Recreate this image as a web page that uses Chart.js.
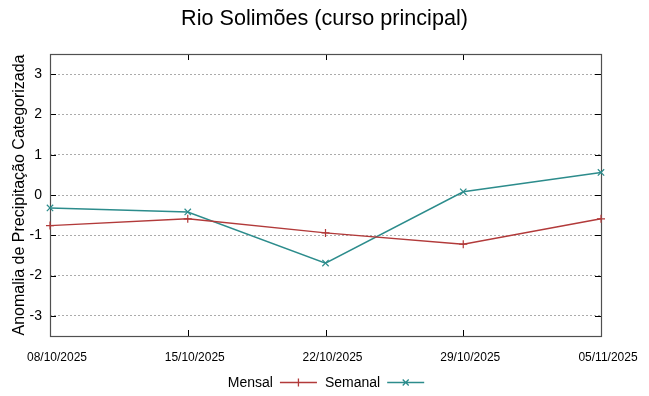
<!DOCTYPE html>
<html>
<head>
<meta charset="utf-8">
<script src="https://cdn.jsdelivr.net/npm/chart.js@4/dist/chart.umd.min.js"></script>
<style>
  html, body { margin: 0; padding: 0; background: #fff; }
  #wrap { width: 649px; height: 396px; position: relative; }
</style>
</head>
<body>
<div id="wrap"><canvas id="c"></canvas></div>
<script>
const chartTitle = 'Rio Solimões (curso principal)';
const yAxisTitle = 'Anomalia de Precipitação Categorizada';
const categories = ['08/10/2025', '15/10/2025', '22/10/2025', '29/10/2025', '05/11/2025'];
const mensal = [-0.76, -0.59, -0.94, -1.22, -0.59];
const semanal = [-0.32, -0.42, -1.69, 0.08, 0.56];
const yTicks = [-3, -2, -1, 0, 1, 2, 3];
const seriesNames = ['Mensal', 'Semanal'];

const FONT = "'Liberation Sans', Arial, sans-serif";
const RED = '#b23a3a';
const TEAL = '#2c8c8c';

const framePlugin = {
  id: 'frame',
  beforeDatasetsDraw(chart) {
    const { ctx, chartArea: a, scales } = chart;
    ctx.save();
    ctx.strokeStyle = '#000';
    ctx.lineWidth = 1;
    ctx.beginPath();
    scales.y.ticks.forEach(t => {
      const y = Math.round(scales.y.getPixelForValue(t.value)) + 0.5;
      ctx.moveTo(a.left, y); ctx.lineTo(a.left + 6, y);
      ctx.moveTo(a.right, y); ctx.lineTo(a.right - 6, y);
    });
    categories.forEach((c, i) => {
      const x = Math.round(scales.x.getPixelForValue(i)) + 0.5;
      ctx.moveTo(x, a.top); ctx.lineTo(x, a.top + 6);
      ctx.moveTo(x, a.bottom); ctx.lineTo(x, a.bottom - 6);
    });
    ctx.stroke();
    ctx.strokeStyle = '#505050';
    ctx.lineWidth = 1.2;
    ctx.strokeRect(Math.round(a.left) + 0.5, Math.round(a.top) + 0.5,
                   Math.round(a.right - a.left), Math.round(a.bottom - a.top));
    ctx.restore();
  }
};

const legendPlugin = {
  id: 'keyLegend',
  afterDraw(chart) {
    const { ctx } = chart;
    ctx.save();
    ctx.font = '14px ' + FONT;
    ctx.textBaseline = 'alphabetic';
    const gapText = 7, sampleW = 37, gapItem = 8;
    const items = chart.data.datasets.map(ds => ({
      label: ds.label, color: ds.borderColor, style: ds.pointStyle,
      w: ctx.measureText(ds.label).width
    }));
    let total = 0;
    items.forEach((it, i) => { total += it.w + gapText + sampleW + (i < items.length - 1 ? gapItem : 0); });
    let x = chart.width / 2 + 1.5 - total / 2;
    const yBase = 387, yMid = 382.5;
    items.forEach(it => {
      ctx.fillStyle = '#000';
      ctx.textAlign = 'left';
      ctx.fillText(it.label, x, yBase);
      x += it.w + gapText;
      ctx.strokeStyle = it.color;
      ctx.lineWidth = 1.3;
      ctx.beginPath();
      ctx.moveTo(x, yMid); ctx.lineTo(x + sampleW, yMid);
      const cx = x + sampleW / 2, r = 4;
      if (it.style === 'cross') {
        ctx.moveTo(cx, yMid - r); ctx.lineTo(cx, yMid + r);
      } else {
        const d = r * 0.75;
        ctx.moveTo(cx - d, yMid - d); ctx.lineTo(cx + d, yMid + d);
        ctx.moveTo(cx - d, yMid + d); ctx.lineTo(cx + d, yMid - d);
      }
      ctx.stroke();
      x += sampleW + gapItem;
    });
    ctx.restore();
  }
};

new Chart(document.getElementById('c'), {
  type: 'line',
  data: {
    labels: categories,
    datasets: [
      {
        label: seriesNames[0], data: mensal, yAxisID: 'y',
        borderColor: RED, backgroundColor: RED,
        borderWidth: 1.5, pointStyle: 'cross', pointRadius: 4,
        pointBorderWidth: 1.2, pointBorderColor: RED, tension: 0, clip: false
      },
      {
        label: seriesNames[1], data: semanal, yAxisID: 'y',
        borderColor: TEAL, backgroundColor: TEAL,
        borderWidth: 1.5, pointStyle: 'crossRot', pointRadius: 4.5,
        pointBorderWidth: 1.2, pointBorderColor: TEAL, tension: 0, clip: false
      }
    ]
  },
  options: {
    responsive: true,
    maintainAspectRatio: false,
    animation: false,
    events: [],
    layout: { padding: 0 },
    plugins: {
      legend: { display: false },
      tooltip: { enabled: false },
      title: {
        display: true, text: chartTitle, color: '#000',
        font: { family: FONT, size: 21.6, weight: 'normal' },
        padding: { top: 6, bottom: 22.1 }
      }
    },
    scales: {
      x: {
        type: 'category',
        offset: false,
        grid: { display: false, drawTicks: false },
        border: { display: false },
        ticks: {
          color: '#000', font: { family: FONT, size: 12 },
          autoSkip: false, maxRotation: 0, minRotation: 0,
          labelOffset: 7, padding: 14
        },
        afterFit(s) { s.height = 60; }
      },
      y: {
        type: 'linear',
        position: 'left',
        min: -3.5, max: 3.5,
        afterBuildTicks(s) { s.ticks = yTicks.map(v => ({ value: v })); },
        grid: { color: '#ababab', lineWidth: 1, drawTicks: false },
        border: { display: false, dash: [2, 2] },
        ticks: {
          color: '#000', font: { family: FONT, size: 14 },
          padding: 8
        },
        title: {
          display: true, text: yAxisTitle, color: '#000',
          font: { family: FONT, size: 16, weight: 'normal' },
          padding: { top: 10, bottom: 0 }
        },
        afterFit(s) { s.width = 50; }
      },
      yRight: {
        type: 'linear',
        position: 'right',
        min: -3.5, max: 3.5,
        grid: { display: false, drawTicks: false },
        border: { display: false },
        ticks: { display: false },
        afterFit(s) { s.width = 48; }
      }
    }
  },
  plugins: [framePlugin, legendPlugin]
});
</script>
</body>
</html>
